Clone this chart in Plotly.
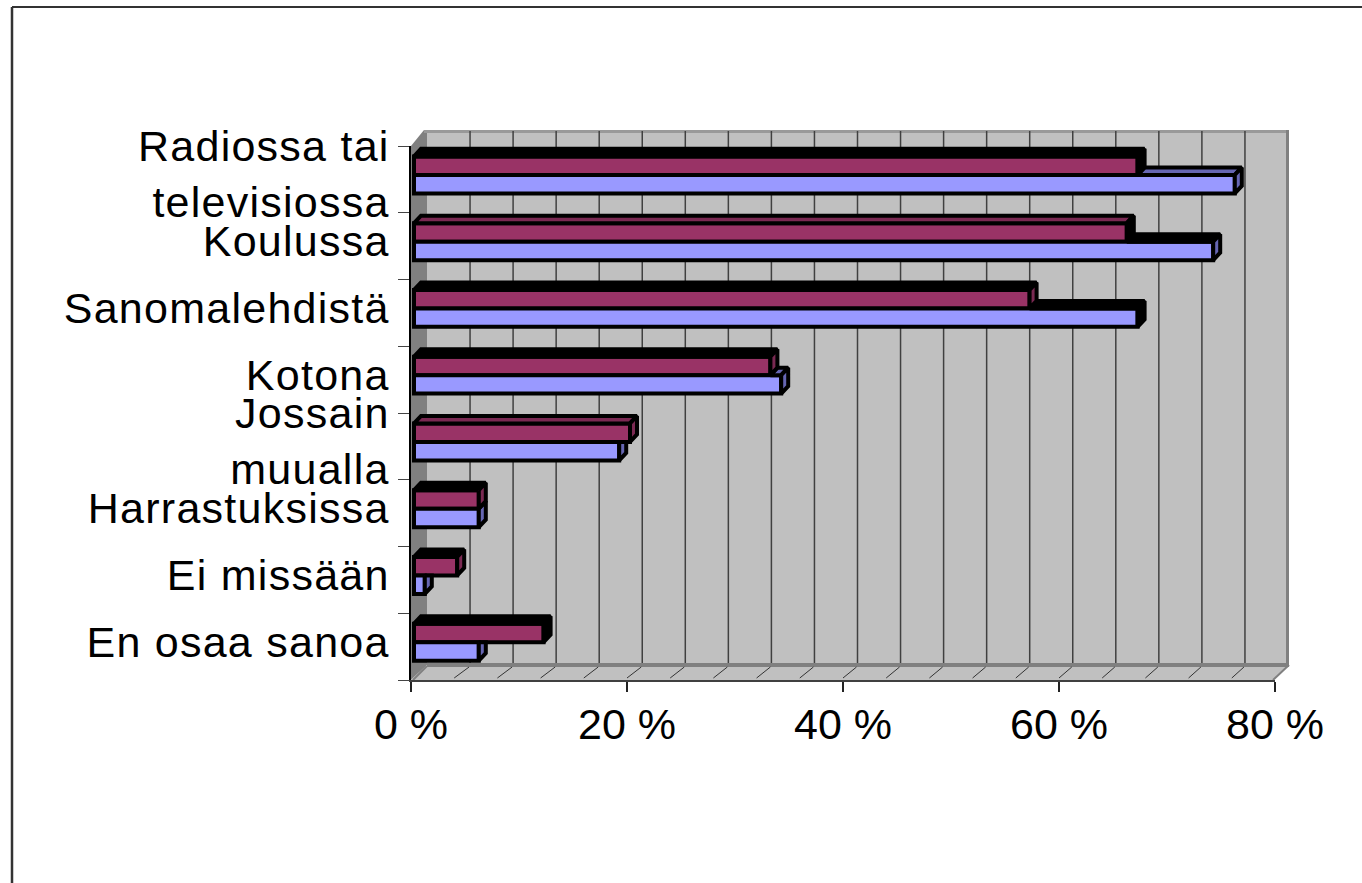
import plotly.graph_objects as go

categories = ["Radiossa tai<br>televisiossa", "Koulussa", "Sanomalehdistä", "Kotona",
              "Jossain<br>muualla", "Harrastuksissa", "Ei missään", "En osaa sanoa"]
red_values = [67, 66, 57, 33, 20, 6, 4, 12]
blue_values = [76, 74, 67, 34, 19, 6, 1, 6]
x_ticks = [0, 20, 40, 60, 80]
x_tick_labels = ["0 %", "20 %", "40 %", "60 %", "80 %"]
grid_values = list(range(4, 80, 4))

RED, RED_D = "#993366", "#7A2952"
BLUE, BLUE_D = "#9999FF", "#6666B3"
K = "black"
red_top_colors = [K, RED_D, K, K, RED_D, K, K, K]
red_side_colors = [K, K, RED_D, RED_D, RED_D, RED_D, RED_D, K]
blue_top_colors = [BLUE_D, K, K, BLUE_D, K, K, K, K]
blue_side_colors = [BLUE_D, BLUE_D, K, BLUE_D, BLUE_D, BLUE_D, BLUE_D, BLUE_D]

PXX, PXY = 10.8, 66.75
BASE = 3 / PXX
DX, DY = 7 / PXX, 7.5 / PXY
H = 18.5 / PXY
R_OFF, B_OFF = -23 / PXY, -4.5 / PXY
STROKE = 4
pos = [i + 0.5 for i in range(len(categories))]


def px(x):
    return (x - 411) / 864


def py(y):
    return (680 - y) / 534


def poly(points, fill, line=None, width=0):
    path = "M" + " L".join(f"{px(a):.5f},{py(b):.5f}" for a, b in points) + " Z"
    return dict(type="path", xref="paper", yref="paper", path=path, fillcolor=fill,
                line=dict(color=line or fill, width=width), layer="below")


def seg(x0, y0, x1, y1, color, width, layer="below"):
    return dict(type="line", xref="paper", yref="paper", x0=px(x0), y0=py(y0), x1=px(x1), y1=py(y1),
                line=dict(color=color, width=width), layer=layer)


shapes = [
    seg(12, 7, 1362, 7, "#333333", 2),
    seg(12, 7, 12, 883, "#333333", 2.5),
    poly([(427, 131), (1288, 131), (1288, 665), (427, 665)], "#C0C0C0"),
    poly([(411, 146), (424, 130), (427, 130), (427, 665), (411, 680)], "#808080"),
    poly([(411, 680), (427, 665), (1289, 665), (1273, 680)], "#C0C0C0"),
    seg(424, 131.5, 1288, 131.5, "#999999", 3),
    seg(1287.5, 130, 1287.5, 666, "#808080", 3),
    seg(427, 665, 1289, 665, "#808080", 4),
    seg(1289, 665, 1273, 680, "#808080", 2),
    seg(427, 666, 413, 680, "#808080", 2),
]
for v in grid_values:
    xw = 427 + 861 * v / 80
    xb = 411 + PXX * v
    shapes.append(seg(xw, 131, xw, 663, "#404040", 1.5))
    shapes.append(seg(xb, 678, xw - 1, 667, "#333333", 1))


def face(xs, ys, color, name):
    return go.Scatter(x=xs, y=ys, mode="lines", fill="toself", fillcolor=color,
                      line=dict(color="black", width=STROKE), hoverinfo="skip",
                      showlegend=False, cliponaxis=False, name=name)


fig = go.Figure()
fig.add_trace(go.Bar(y=pos, x=red_values, base=BASE, orientation="h", width=H, offset=R_OFF,
                     marker=dict(color=RED, line=dict(color="black", width=STROKE)),
                     showlegend=False, cliponaxis=False, hoverinfo="skip"))
fig.add_trace(go.Bar(y=pos, x=blue_values, base=BASE, orientation="h", width=H, offset=B_OFF,
                     marker=dict(color=BLUE, line=dict(color="black", width=STROKE)),
                     showlegend=False, cliponaxis=False, hoverinfo="skip"))

# depth faces, computed from the same values
for i, (p, r, b) in enumerate(zip(pos, red_values, blue_values)):
    t, bo = p + B_OFF, p + B_OFF + H
    re, be = r + BASE, b + BASE
    if b > r:
        fig.add_trace(face([re, be, be + DX, re + DX, re], [t, t, t - DY, t - DY, t],
                           blue_top_colors[i], "blue top"))
    if b + DX / 2 < r:
        side_y = [t, t, bo - DY, bo, t]
    else:
        side_y = [t, t - DY, bo - DY, bo, t]
    fig.add_trace(face([be, be + DX, be + DX, be, be], side_y, blue_side_colors[i], "blue side"))
for i, (p, r) in enumerate(zip(pos, red_values)):
    t, bo = p + R_OFF, p + R_OFF + H
    re = r + BASE
    fig.add_trace(face([BASE, re, re + DX, BASE + DX, BASE], [t, t, t - DY, t - DY, t],
                       red_top_colors[i], "red top"))
    fig.add_trace(face([re, re + DX, re + DX, re, re], [t, t - DY, bo - DY, bo, t],
                       red_side_colors[i], "red side"))

FONT = dict(family="Liberation Sans, Arial, sans-serif", size=43, color="black")
fig.update_layout(
    width=1362, height=883, autosize=False,
    margin=dict(l=411, r=87, t=146, b=203, autoexpand=False),
    paper_bgcolor="white", plot_bgcolor="rgba(0,0,0,0)",
    barmode="overlay", shapes=shapes, hovermode=False,
    xaxis=dict(range=[0, 80], tickmode="array", tickvals=x_ticks, ticktext=x_tick_labels,
               ticks="outside", ticklen=10, tickcolor="#222222", tickwidth=1.5,
               showgrid=False, zeroline=False, showline=True, linecolor="#404040", linewidth=2,
               tickfont=FONT, ticklabelstandoff=-5),
    yaxis=dict(range=[8, 0], tickmode="array", tickvals=pos, ticktext=categories,
               ticks="", showgrid=False, zeroline=False, showline=True, linecolor="black", linewidth=1.5,
               tickfont=FONT, ticklabelstandoff=11, ticklabelshift=5,
               minor=dict(tickmode="array", tickvals=list(range(9)), ticks="outside", ticklen=11,
                          tickcolor="#444444", tickwidth=1, showgrid=False)),
)
fig.write_html(
    "out.html",
    config={"displayModeBar": False},
    post_script="document.body.style.margin='0';document.body.style.overflow='hidden';"
                "document.querySelectorAll('.ytick text').forEach(function(t){t.style.letterSpacing='1.25px';});",
)
